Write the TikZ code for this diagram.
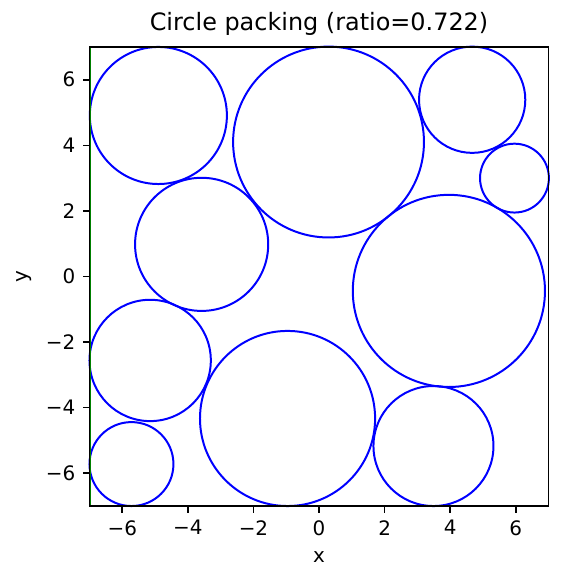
\documentclass[tikz,border=0pt]{standalone}
\usepackage{fontspec}
\setmainfont{DejaVu Sans}
\definecolor{mplgreen}{HTML}{008000}
\tikzset{
  packcirc/.style={blue,line width=1pt},
  spine/.style={black,line width=0.8pt},
  ticklab/.style={font=\fontsize{10}{12}\selectfont,inner sep=0pt}
}

\begin{document}
\begin{tikzpicture}[x=0.5783cm,y=0.5783cm]
      % page frame (564 x 585 px)
      \useasboundingbox (-9.729,-9.408) rectangle (7.472,8.432);

      % Packed circles
      \draw[packcirc] (-4.90,4.91) circle (2.09);
      \draw[packcirc] (0.29,4.10) circle (2.91);
      \draw[packcirc] (4.67,5.39) circle (1.62);
      \draw[packcirc] (5.96,3.00) circle (1.05);
      \draw[packcirc] (-3.58,0.98) circle (2.03);
      \draw[packcirc] (3.96,-0.44) circle (2.93);
      \draw[packcirc] (-5.15,-2.56) circle (1.85);
      \draw[packcirc] (-0.96,-4.33) circle (2.67);
      \draw[packcirc] (3.49,-5.17) circle (1.83);
      \draw[packcirc] (-5.72,-5.72) circle (1.28);

      % Container edge
      \draw[mplgreen,line width=1pt] (-6.98,-7) -- (-6.98,7);

      % Axes box and ticks
      \draw[spine] (-7,-7) rectangle (7,7);
      \foreach \t/\s in {-6/−6,-4/−4,-2/−2,0/0,2/2,4/4,6/6} {
        \draw[spine] (\t,-7) -- ++(0,-0.213);
        \node[ticklab,anchor=north] (xt\t) at (\t,-7.42) {\s};
        \draw[spine] (-7,\t) -- ++(-0.213,0);
        \node[ticklab,anchor=east] (yt\t) at (-7.42,\t) {\s};
      }

      % Labels
      \node[ticklab] (xlab) at (0,-8.56) {x};
      \node[ticklab,rotate=90] (ylab) at (-8.98,0) {y};
      \node[font=\fontsize{12}{14}\selectfont] (title) at (0,7.70) {Circle packing (ratio=0.722)};
\end{tikzpicture}
\end{document}
